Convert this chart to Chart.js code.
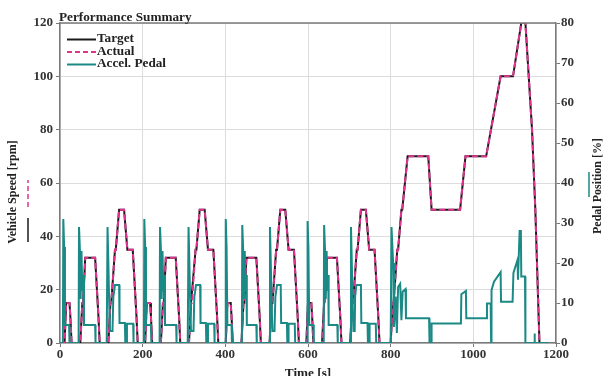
<!DOCTYPE html>
<html lang="en">
  <head>
    <meta charset="UTF-8" />
    <title>Performance Summary</title>
    <style>
      html, body { margin: 0; padding: 0; background: #fff; }
    </style>
  </head>
  <body>
    <canvas id="chart-1" width="604" height="376"></canvas>
    <script src="https://cdn.jsdelivr.net/npm/chart.js"></script>
    <script>
      // x ticks (time, s)
      const timeTicks = [0, 200, 400, 600, 800, 1000, 1200];
      const speedTicks = [0, 20, 40, 60, 80, 100, 120];
      const pedalTicks = [0, 10, 20, 30, 40, 50, 60, 70, 80];

      // vehicle speed (left axis) - four urban cycles + extra-urban part
      const speedTime = [
        0, 11, 15, 23, 25, 28, 49, 54, 56, 61, 85, 93, 96, 117, 122, 124, 133, 135, 143, 155, 163, 176, 185, 188,
        195, 206, 210, 218, 220, 223, 244, 249, 251, 256, 280, 288, 291, 312, 317, 319, 328, 330, 338, 350, 358, 371, 380, 383,
        390, 401, 405, 413, 415, 418, 439, 444, 446, 451, 475, 483, 486, 507, 512, 514, 523, 525, 533, 545, 553, 566, 575, 578,
        585, 596, 600, 608, 610, 613, 634, 639, 641, 646, 670, 678, 681, 702, 707, 709, 718, 720, 728, 740, 748, 761, 770, 773,
        780, 800, 805, 807, 816, 818, 826, 828, 841, 891, 899, 968, 981, 1031, 1066, 1096, 1116, 1126, 1142, 1150, 1160, 1180
      ];
      const speedTarget = [
        0, 0, 15, 15, 10, 0, 0, 15, 15, 32, 32, 10, 0, 0, 15, 15, 35, 35, 50, 50, 35, 35, 10, 0,
        0, 0, 15, 15, 10, 0, 0, 15, 15, 32, 32, 10, 0, 0, 15, 15, 35, 35, 50, 50, 35, 35, 10, 0,
        0, 0, 15, 15, 10, 0, 0, 15, 15, 32, 32, 10, 0, 0, 15, 15, 35, 35, 50, 50, 35, 35, 10, 0,
        0, 0, 15, 15, 10, 0, 0, 15, 15, 32, 32, 10, 0, 0, 15, 15, 35, 35, 50, 50, 35, 35, 10, 0,
        0, 0, 15, 15, 35, 35, 50, 50, 70, 70, 50, 50, 70, 70, 100, 100, 120, 120, 80, 50, 0, 0
      ];
      const speedActual = [
        0, 0, 15, 15, 10, 0, 0, 15, 15, 32, 32, 10, 0, 0, 15, 15, 35, 35, 50, 50, 35, 35, 10, 0,
        0, 0, 15, 15, 10, 0, 0, 15, 15, 32, 32, 10, 0, 0, 15, 15, 35, 35, 50, 50, 35, 35, 10, 0,
        0, 0, 15, 15, 10, 0, 0, 15, 15, 32, 32, 10, 0, 0, 15, 15, 35, 35, 50, 50, 35, 35, 10, 0,
        0, 0, 15, 15, 10, 0, 0, 15, 15, 32, 32, 10, 0, 0, 15, 15, 35, 35, 50, 50, 35, 35, 10, 0,
        0, 0, 15, 15, 35, 35, 50, 50, 70, 70, 50, 50, 70, 70, 100, 100, 120, 120, 80, 50, 0, 0
      ];

      // accelerator pedal position (right axis, %)
      const pedalTime = [
        0, 7, 8, 10, 12, 22, 23, 45, 46, 49, 50, 52, 54, 56, 58, 85, 86, 113, 115, 117, 119, 121, 127, 129, 133, 143, 144, 157, 158, 161, 162, 177, 178,
        203, 204, 206, 208, 220, 221, 241, 242, 245, 246, 248, 250, 252, 254, 281, 282, 309, 311, 313, 315, 317, 323, 325, 329, 339, 340, 353, 354, 357, 358, 373, 374,
        400, 401, 403, 405, 415, 416, 440, 441, 444, 445, 447, 449, 451, 452, 475, 476, 506, 508, 510, 512, 514, 519, 521, 525, 534, 535, 549, 550, 552, 553, 568, 569,
        598, 599, 601, 603, 613, 614, 638, 639, 642, 643, 645, 647, 649, 650, 671, 672, 702, 704, 706, 708, 710, 713, 714, 717, 728, 729, 744, 745, 748, 749, 764, 765,
        800, 802, 806, 808, 812, 815, 818, 823, 826, 829, 836, 837, 893, 894, 898, 899, 970, 971, 982, 983, 1032, 1033, 1042, 1043, 1044, 1050, 1066, 1067, 1095, 1097, 1107, 1108, 1112, 1115, 1116, 1125, 1126, 1147, 1148, 1149, 1180
      ];
      const pedalValue = [
        0, 0, 31, 24, 4.5, 4.5, 0, 0, 29, 21, 11, 23, 13, 17, 4.5, 4.5, 0, 0, 29, 20, 10, 3, 3, 11.5, 14.5, 14.5, 5, 5, 0, 0, 4.8, 4.8, 0,
        0, 31, 24, 4.5, 4.5, 0, 0, 29, 21, 11, 23, 13, 17, 4.5, 4.5, 0, 0, 29, 20, 10, 3, 3, 11.5, 14.5, 14.5, 5, 5, 0, 0, 4.8, 4.8, 0,
        0, 31, 24, 4.5, 4.5, 0, 0, 29.5, 21, 11, 23, 13, 17, 4.5, 4.5, 0, 0, 29, 20, 10, 3, 3, 11.5, 14.5, 14.5, 5, 5, 0, 0, 4.8, 4.8, 0,
        0, 30.5, 24, 4.5, 4.5, 0, 0, 29.5, 21, 11, 23, 13, 17, 4.5, 4.5, 0, 0, 29, 20, 10, 3, 3, 11.5, 14.5, 14.5, 5, 5, 0, 0, 4.8, 4.8, 0,
        0, 29, 20, 4, 11.6, 2.5, 14, 14.8, 5.7, 12.8, 13.5, 6.2, 6.2, 0, 0, 4.9, 4.9, 12.2, 13, 6.2, 6.2, 9.9, 9.9, 0, 13.2, 15.3, 17.7, 10.3, 10.3, 17.5, 20.8, 15.8, 28, 28, 16.6, 16.6, 0, 0, 2.4, 0, 0
      ];

      const toPoints = (xs, ys) => xs.map((x, i) => ({ x: x, y: ys[i] }));

      const serif = '"Liberation Serif", "Times New Roman", serif';
      const tickFont = { family: serif, size: 13, weight: "bold" };

      // stretched text helper (the picture is a bit wider than tall)
      function wideText(ctx, text, x, y, align, sx) {
        ctx.save();
        ctx.translate(x, y);
        ctx.scale(sx, 1);
        ctx.textAlign = align;
        ctx.fillText(text, 0, 0);
        ctx.restore();
      }

      const decorations = {
        id: "decorations",
        afterDraw(chart) {
          const { ctx, chartArea: a } = chart;
          ctx.save();

          // top frame line
          ctx.strokeStyle = "#7a7a7a";
          ctx.lineWidth = 1.5;
          ctx.beginPath();
          ctx.moveTo(a.left, a.top);
          ctx.lineTo(a.right, a.top);
          ctx.stroke();

          ctx.fillStyle = "#222";
          ctx.textBaseline = "alphabetic";
          ctx.font = "bold 11.5px " + serif;
          wideText(ctx, "Performance Summary", 59, 21, "left", 1.15);

          // legend
          const items = [
            { label: "Target", color: "#1a1a1a", dash: [] },
            { label: "Actual", color: "#e0338f", dash: [5, 3] },
            { label: "Accel. Pedal", color: "#1b8a86", dash: [] }
          ];
          items.forEach((it, i) => {
            const y = 39.5 + i * 12.5;
            ctx.strokeStyle = it.color;
            ctx.lineWidth = 2;
            ctx.setLineDash(it.dash);
            ctx.beginPath();
            ctx.moveTo(67, y);
            ctx.lineTo(96, y);
            ctx.stroke();
            ctx.setLineDash([]);
            ctx.textBaseline = "middle";
            wideText(ctx, it.label, 97, y, "left", 1.15);
          });

          // axis titles
          ctx.textBaseline = "alphabetic";
          wideText(ctx, "Time [s]", 308, 377, "center", 1.15);

          ctx.font = "bold 12px " + serif;
          ctx.textBaseline = "middle";
          ctx.save();
          ctx.translate(13, 192);
          ctx.rotate(-Math.PI / 2);
          ctx.textAlign = "center";
          ctx.fillText("Vehicle Speed [rpm]", 0, 0);
          ctx.restore();

          ctx.save();
          ctx.translate(598, 186);
          ctx.rotate(-Math.PI / 2);
          ctx.textAlign = "center";
          ctx.fillText("Pedal Position [%]", 0, 0);
          ctx.restore();

          // little series marks beside the axis titles
          ctx.lineWidth = 1.5;
          ctx.strokeStyle = "#e0338f";
          ctx.setLineDash([5, 3]);
          ctx.beginPath();
          ctx.moveTo(28, 207);
          ctx.lineTo(28, 180);
          ctx.stroke();
          ctx.setLineDash([]);
          ctx.strokeStyle = "#1a1a1a";
          ctx.beginPath();
          ctx.moveTo(28, 242);
          ctx.lineTo(28, 218);
          ctx.stroke();
          ctx.strokeStyle = "#1b8a86";
          ctx.beginPath();
          ctx.moveTo(589, 197);
          ctx.lineTo(589, 172);
          ctx.stroke();

          ctx.restore();
        }
      };

      new Chart(document.getElementById("chart-1"), {
        type: "line",
        data: {
          datasets: [
            {
              label: "Accel. Pedal",
              data: toPoints(pedalTime, pedalValue),
              yAxisID: "y1",
              borderColor: "#1b8a86",
              borderWidth: 2,
              order: 0
            },
            {
              label: "Actual",
              data: toPoints(speedTime, speedActual),
              yAxisID: "y",
              borderColor: "#e0338f",
              borderWidth: 2,
              borderDash: [6, 3],
              order: 1
            },
            {
              label: "Target",
              data: toPoints(speedTime, speedTarget),
              yAxisID: "y",
              borderColor: "#1a1a1a",
              borderWidth: 2,
              order: 2
            }
          ]
        },
        options: {
          responsive: false,
          animation: false,
          elements: { point: { radius: 0 }, line: { tension: 0 } },
          layout: { padding: { top: 23 } },
          plugins: {
            legend: { display: false },
            title: { display: false },
            tooltip: { enabled: false }
          },
          scales: {
            x: {
              type: "linear",
              min: 0,
              max: 1200,
              afterBuildTicks: (s) => { s.ticks = timeTicks.map((v) => ({ value: v })); },
              afterFit: (s) => { s.height = 33; },
              ticks: { font: tickFont, color: "#333", padding: 0, callback: (v) => String(v) },
              grid: { color: "#dcdcdc", tickColor: "#777", tickLength: 4 },
              border: { color: "#7a7a7a", width: 1.5 }
            },
            y: {
              position: "left",
              min: 0,
              max: 120,
              afterBuildTicks: (s) => { s.ticks = speedTicks.map((v) => ({ value: v })); },
              afterFit: (s) => { s.width = 60; },
              ticks: { font: tickFont, color: "#333", padding: 3, callback: (v) => String(v) },
              grid: { color: "#dcdcdc", tickColor: "#777", tickLength: 4 },
              border: { color: "#7a7a7a", width: 1.5 }
            },
            y1: {
              position: "right",
              min: 0,
              max: 80,
              afterBuildTicks: (s) => { s.ticks = pedalTicks.map((v) => ({ value: v })); },
              afterFit: (s) => { s.width = 48; },
              ticks: { font: tickFont, color: "#333", padding: 1, callback: (v) => String(v) },
              grid: { drawOnChartArea: false, tickColor: "#777", tickLength: 4 },
              border: { color: "#7a7a7a", width: 1.5 }
            }
          }
        },
        plugins: [decorations]
      });
    </script>
  </body>
</html>
